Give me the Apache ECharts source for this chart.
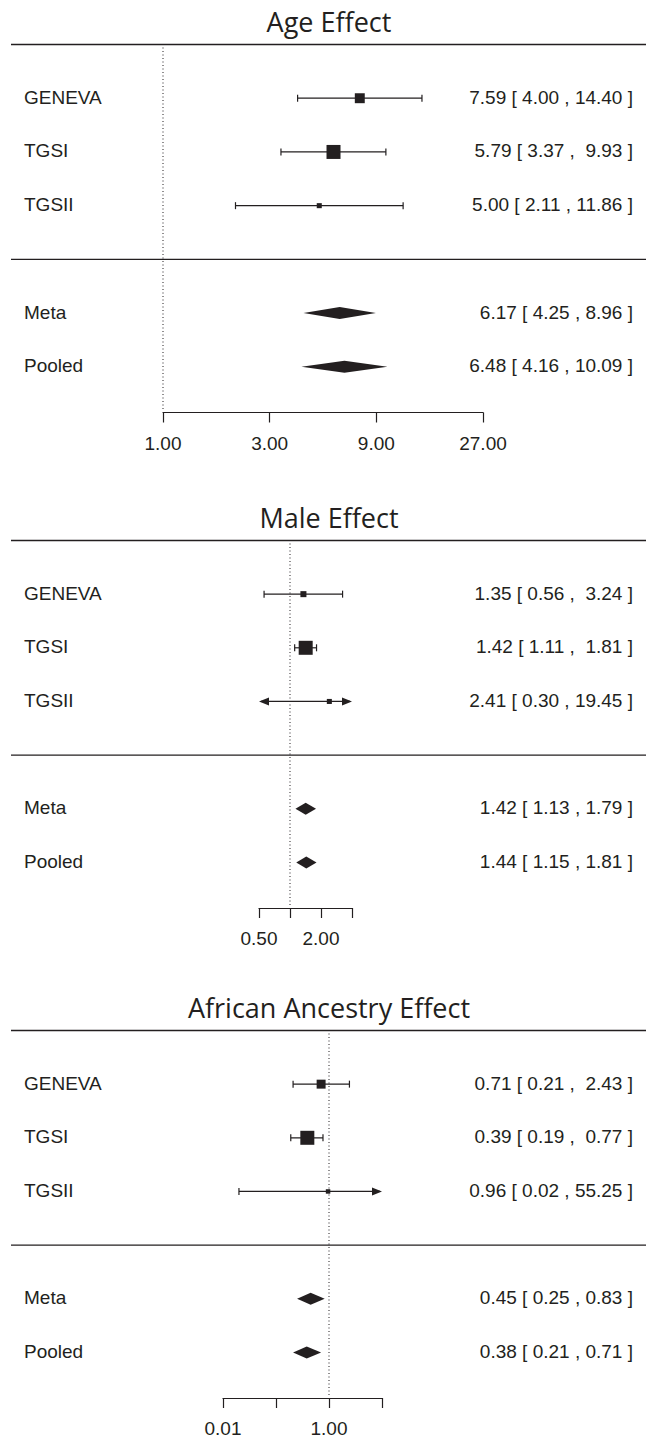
<!DOCTYPE html>
<html><head><meta charset="utf-8">
<script src="https://cdn.jsdelivr.net/npm/echarts@6/dist/echarts.min.js"></script>
<style>html,body{margin:0;padding:0;background:#fff}#c{width:646px;height:1444px}</style>
</head><body><div id="c"></div>
<script>
// ---------- data ----------
const panelTitles = ['Age Effect', 'Male Effect', 'African Ancestry Effect'];
const rowLabels = ['GENEVA', 'TGSI', 'TGSII', 'Meta', 'Pooled'];
const rowKinds = [0, 0, 0, 1, 1]; // 0 = study, 1 = summary

const ageEst  = [7.59, 5.79, 5.00, 6.17, 6.48];
const ageLow  = [4.00, 3.37, 2.11, 4.25, 4.16];
const ageHigh = [14.40, 9.93, 11.86, 8.96, 10.09];
const ageWeight = [0.71, 1.00, 0.36];
const ageTickLabels = ['1.00', '3.00', '9.00', '27.00'];

const maleEst  = [1.35, 1.42, 2.41, 1.42, 1.44];
const maleLow  = [0.56, 1.11, 0.30, 1.13, 1.15];
const maleHigh = [3.24, 1.81, 19.45, 1.79, 1.81];
const maleWeight = [0.43, 1.00, 0.36];
const maleTickLabels = ['0.50', '', '2.00', ''];

const afrEst  = [0.71, 0.39, 0.96, 0.45, 0.38];
const afrLow  = [0.21, 0.19, 0.02, 0.25, 0.21];
const afrHigh = [2.43, 0.77, 55.25, 0.83, 0.71];
const afrWeight = [0.64, 1.00, 0.32];
const afrTickLabels = ['0.01', '', '1.00', ''];

// axis scales (log base, range)
const ageAxis = {base: 3, min: 1, max: 27};
const maleAxis = {base: 2, min: 0.5, max: 4};
const afrAxis = {base: 10, min: 0.01, max: 10};

// ---------- layout / style ----------
const ink = '#231f20';
const textFont = '"Liberation Sans", Arial, Helvetica, sans-serif';
const titleFont = '"Open Sans", sans-serif';
const layout = [
  {left: 163, width: 320, top: 44.5, height: 368},
  {left: 259, width: 93, top: 540.5, height: 367.5},
  {left: 223, width: 159, top: 1030.5, height: 367.5}
];
const axisRow = 6.85;

function ciTexts(est, lo, hi) {
  const study = [0, 1, 2];
  const wl = Math.max(...study.map(i => lo[i].toFixed(2).length));
  const wh = Math.max(...study.map(i => hi[i].toFixed(2).length));
  return est.map((e, i) => {
    let l = lo[i].toFixed(2), h = hi[i].toFixed(2);
    if (rowKinds[i] === 0) { l = l.padStart(wl, '\u00a0'); h = h.padStart(wh, '\u00a0'); }
    return e.toFixed(2) + ' [ ' + l + ' , ' + h + ' ]';
  });
}

const panels = [
  {title: panelTitles[0], est: ageEst, low: ageLow, high: ageHigh, weight: ageWeight, axis: ageAxis, ticks: ageTickLabels},
  {title: panelTitles[1], est: maleEst, low: maleLow, high: maleHigh, weight: maleWeight, axis: maleAxis, ticks: maleTickLabels},
  {title: panelTitles[2], est: afrEst, low: afrLow, high: afrHigh, weight: afrWeight, axis: afrAxis, ticks: afrTickLabels}
];
panels.forEach(P => { P.texts = ciTexts(P.est, P.low, P.high); });

function makeRender(p) {
  const P = panels[p];
  return function (params, api) {
    const i = params.dataIndex;
    const cs = params.coordSys;
    const est = api.value(0), lo = api.value(1), hi = api.value(2), row = api.value(3), w = api.value(4), kind = api.value(5);
    const pe = api.coord([est, row]);
    const xe = pe[0], yc = pe[1];
    const xl = api.coord([lo, row])[0], xh = api.coord([hi, row])[0];
    const L = cs.x, R = cs.x + cs.width;
    const kids = [];
    if (kind === 0) {
      const cl = xl < L - 0.5, cr = xh > R + 0.5;
      const a = cl ? L + 2 : xl, b = cr ? R - 2 : xh;
      kids.push({type: 'line', shape: {x1: a, y1: yc, x2: b, y2: yc}, style: {stroke: ink, lineWidth: 1.2}});
      if (cl) kids.push({type: 'polygon', shape: {points: [[L, yc], [L + 10, yc - 4], [L + 10, yc + 4]]}, style: {fill: ink}});
      else kids.push({type: 'line', shape: {x1: xl, y1: yc - 3.5, x2: xl, y2: yc + 3.5}, style: {stroke: ink, lineWidth: 1.2}});
      if (cr) kids.push({type: 'polygon', shape: {points: [[R, yc], [R - 10, yc - 4], [R - 10, yc + 4]]}, style: {fill: ink}});
      else kids.push({type: 'line', shape: {x1: xh, y1: yc - 3.5, x2: xh, y2: yc + 3.5}, style: {stroke: ink, lineWidth: 1.2}});
      const s = 14 * w;
      kids.push({type: 'rect', shape: {x: xe - s / 2, y: yc - s / 2, width: s, height: s}, style: {fill: ink}});
    } else {
      kids.push({type: 'polygon', shape: {points: [[xl, yc], [xe, yc - 6], [xh, yc], [xe, yc + 6]]}, style: {fill: ink}});
    }
    kids.push({type: 'text', style: {text: rowLabels[i], x: 24, y: yc - 1, fill: ink, fontSize: 19, fontFamily: textFont, align: 'left', verticalAlign: 'middle'}});
    kids.push({type: 'text', style: {text: P.texts[i], x: 633, y: yc - 1, fill: ink, fontSize: 19, fontFamily: textFont, align: 'right', verticalAlign: 'middle'}});
    if (i === 0) {
      const y0 = api.coord([P.axis.min, 0])[1];
      const y4 = api.coord([P.axis.min, 4])[1];
      const yB = api.coord([P.axis.min, axisRow])[1];
      const x1 = api.coord([1, 0])[0];
      kids.push({type: 'line', shape: {x1: 11, y1: y0, x2: 646, y2: y0}, style: {stroke: ink, lineWidth: 1.3}});
      kids.push({type: 'line', shape: {x1: 11, y1: y4, x2: 646, y2: y4}, style: {stroke: ink, lineWidth: 1.3}});
      kids.push({type: 'line', shape: {x1: x1, y1: y0 + 3, x2: x1, y2: yB - 2}, style: {stroke: ink, lineWidth: 1, lineDash: [1, 2.5]}});
      kids.push({type: 'text', style: {text: P.title, x: 329, y: y0 - 23, fill: ink, fontSize: 27, fontFamily: titleFont, align: 'center', verticalAlign: 'middle'}});
    }
    return {type: 'group', children: kids};
  };
}

const grid = [], xAxis = [], yAxis = [], series = [];
panels.forEach((P, p) => {
  grid.push(Object.assign({containLabel: false}, layout[p]));
  const ax = P.axis;
  xAxis.push({
    type: 'log', logBase: ax.base, min: ax.min, max: ax.max, gridIndex: p, position: 'bottom',
    axisLine: {show: true, onZero: false, lineStyle: {color: ink, width: 1.2}},
    axisTick: {show: true, inside: false, length: 10, lineStyle: {color: ink, width: 1.2}},
    axisLabel: {
      margin: 21, fontSize: 19, fontFamily: textFont, color: ink,
      formatter: function (v) {
        const k = Math.round(Math.log(v) / Math.log(ax.base)) - Math.round(Math.log(ax.min) / Math.log(ax.base));
        return P.ticks[k] || '';
      }
    },
    splitLine: {show: false}
  });
  yAxis.push({type: 'value', gridIndex: p, min: 0, max: axisRow, inverse: true, show: false});
  const data = P.est.map((e, i) => [e, P.low[i], P.high[i], rowKinds[i] === 0 ? i + 1 : i + 2, rowKinds[i] === 0 ? P.weight[i] : 0, rowKinds[i]]);
  series.push({
    type: 'custom', xAxisIndex: p, yAxisIndex: p, clip: false, silent: true,
    encode: {x: [0, 1, 2], y: 3},
    data: data,
    renderItem: makeRender(p)
  });
});

const chart = echarts.init(document.getElementById('c'), null, {renderer: 'svg', width: 646, height: 1444});
chart.setOption({animation: false, backgroundColor: '#fff', grid, xAxis, yAxis, series});
</script>
</body></html>
